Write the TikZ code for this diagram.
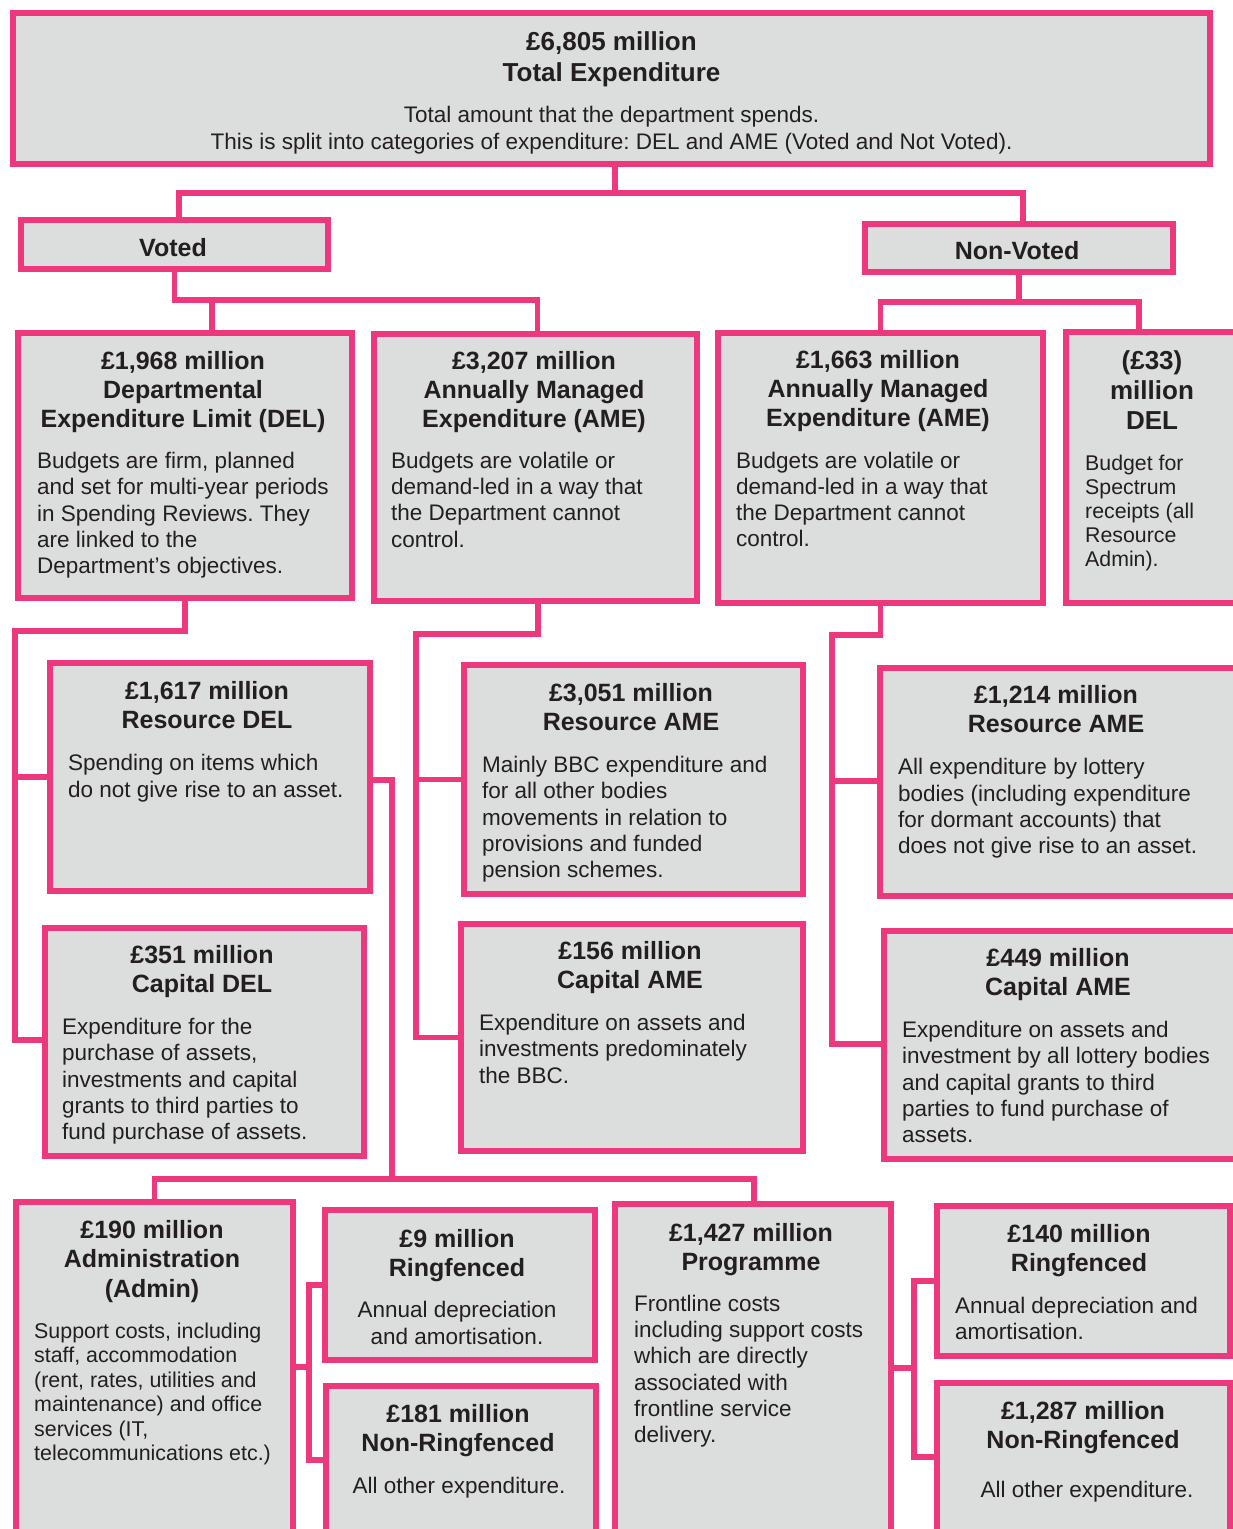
\documentclass[tikz,border=0pt]{standalone}
\usepackage{fontspec}
\setmainfont{Liberation Sans}
\definecolor{pk}{RGB}{238,56,126}
\definecolor{bx}{RGB}{220,221,221}
\definecolor{tx}{RGB}{35,31,32}
\pgfdeclarelayer{bg}
\pgfsetlayers{bg,main}
\tikzset{
  box/.style={draw=pk, fill=bx, line width=6pt, outer sep=0pt, inner sep=0pt},
  conn/.style={draw=pk, line width=5.5pt, line join=miter},
  ttl/.style={font=\bfseries\fontsize{25}{29}\selectfont, text=tx, align=center, anchor=base, inner sep=0pt},
  bdy/.style={font=\fontsize{22.5}{26.2}\selectfont, text=tx, align=left, anchor=base west, inner sep=0pt},
  sbdy/.style={font=\fontsize{21.4}{24.4}\selectfont, text=tx, align=left, anchor=base west, inner sep=0pt},
}
\begin{document}
\frenchspacing
\begin{tikzpicture}[x=1pt,y=-1pt]
\useasboundingbox (0,0) rectangle (1233,1529);
\clip (0,0) rectangle (1233,1529);
% boxes
\node[box, minimum width=1197, minimum height=151] (top) at (611.5,88.5) {};
\node[box, minimum width=307, minimum height=49] (voted) at (174.5,244.5) {};
\node[box, minimum width=308, minimum height=48] (nonvoted) at (1019,248) {};
\node[box, minimum width=334, minimum height=265] (del) at (185,465.5) {};
\node[box, minimum width=323, minimum height=267] (ame1) at (535.5,467.5) {};
\node[box, minimum width=325, minimum height=270] (ame2) at (880.5,468) {};
\node[box, minimum width=181, minimum height=271] (del33) at (1156.5,467.5) {};
\node[box, minimum width=320, minimum height=228] (resdel) at (210,777) {};
\node[box, minimum width=319, minimum height=228] (capdel) at (204.5,1042) {};
\node[box, minimum width=339, minimum height=229] (resame1) at (633.5,779.5) {};
\node[box, minimum width=342, minimum height=227] (capame1) at (632,1037.5) {};
\node[box, minimum width=367, minimum height=228] (resame2) at (1063.5,782) {};
\node[box, minimum width=363, minimum height=228] (capame2) at (1065.5,1045) {};
\node[box, minimum width=277, minimum height=355] (admin) at (154.5,1379.5) {};
\node[box, minimum width=270, minimum height=150] (ring9) at (460,1285) {};
\node[box, minimum width=270, minimum height=171] (nonring181) at (461,1471.5) {};
\node[box, minimum width=276, minimum height=353] (prog) at (753,1380.5) {};
\node[box, minimum width=293, minimum height=150] (ring140) at (1083.5,1281) {};
\node[box, minimum width=293, minimum height=174] (nonring1287) at (1083.5,1470) {};
% connectors
\begin{pgfonlayer}{bg}
\draw[conn] ([xshift=3.5]top.south) -- ++(0,29) -| ([xshift=4.5]voted.north);
\draw[conn] ([xshift=3.5]top.south) -- ++(0,29) -| ([xshift=4]nonvoted.north);
\draw[conn] (voted.south) -- ++(0,31) -| ([xshift=27]del.north);
\draw[conn] (voted.south) -- ++(0,31) -| ([xshift=2]ame1.north);
\draw[conn] (nonvoted.south) -- ++(0,30) -| (ame2.north);
\draw[conn] (nonvoted.south) -- ++(0,30) -| ([xshift=-17.5]del33.north);
\draw[conn] (del.south) -- ++(0,33) -- ++(-170,0) |- (resdel.west);
\draw[conn] (del.south) -- ++(0,33) -- ++(-170,0) |- ([yshift=2]capdel.west);
\draw[conn] ([yshift=-3]resdel.east) -- ++(22,0) -- ++(0,399) -| (admin.north);
\draw[conn] ([yshift=-3]resdel.east) -- ++(22,0) -- ++(0,399) -| ([xshift=1]prog.north);
\draw[conn] ([xshift=2.5]ame1.south) -- ++(0,33) -- ++(-122,0) |- (resame1.west);
\draw[conn] ([xshift=2.5]ame1.south) -- ++(0,33) -- ++(-122,0) |- (capame1.west);
\draw[conn] (ame2.south) -- ++(0,32) -- ++(-48.5,0) |- ([yshift=1]resame2.west);
\draw[conn] (ame2.south) -- ++(0,32) -- ++(-48.5,0) |- ([yshift=1]capame2.west);
\draw[conn] ([yshift=12.5]admin.east) -- ++(16,0) |- (ring9.west);
\draw[conn] ([yshift=12.5]admin.east) -- ++(16,0) |- ([yshift=11.5]nonring181.west);
\draw[conn] ([yshift=12.5]prog.east) -- ++(23,0) |- (ring140.west);
\draw[conn] ([yshift=12.5]prog.east) -- ++(23,0) |- ([yshift=13]nonring1287.west);
\end{pgfonlayer}
% texts (multi-line nodes: base anchor = last line's baseline)
\node[ttl, font=\bfseries\fontsize{26}{31}\selectfont] (top-t) at (611.5,81) {£6,805 million\\Total Expenditure};
\node[bdy, align=center, anchor=base, font=\fontsize{22.5}{27}\selectfont] (top-b) at (611.5,149) {Total amount that the department spends.\\This is split into categories of expenditure: DEL and AME (Voted and Not Voted).};
\node[ttl] (voted-t) at (173,256) {Voted};
\node[ttl] (nonvoted-t) at (1017,259) {Non-Voted};
\node[ttl] (del-t) at (183,427) {£1,968 million\\Departmental\\Expenditure Limit (DEL)};
\node[bdy] (del-b) at (37,573.5) {Budgets are firm, planned\\and set for multi-year periods\\in Spending Reviews. They\\are linked to the\\Department’s objectives.};
\node[ttl] (ame1-t) at (534,427) {£3,207 million\\Annually Managed\\Expenditure (AME)};
\node[bdy] (ame1-b) at (391,547) {Budgets are volatile or\\demand-led in a way that\\the Department cannot\\control.};
\node[ttl] (ame2-t) at (878,426) {£1,663 million\\Annually Managed\\Expenditure (AME)};
\node[bdy] (ame2-b) at (736,546.6) {Budgets are volatile or\\demand-led in a way that\\the Department cannot\\control.};
\node[ttl, font=\bfseries\fontsize{26}{30}\selectfont] (del33-t) at (1152,429) {(£33)\\million\\DEL};
\node[sbdy, font=\fontsize{21.3}{24}\selectfont] (del33-b) at (1085,566) {Budget for\\Spectrum\\receipts (all\\Resource\\Admin).};
\node[ttl] (resdel-t) at (207,728) {£1,617 million\\Resource DEL};
\node[bdy] (resdel-b) at (68,797) {Spending on items which\\do not give rise to an asset.};
\node[ttl] (capdel-t) at (202,992) {£351 million\\Capital DEL};
\node[bdy] (capdel-b) at (62,1139.5) {Expenditure for the\\purchase of assets,\\investments and capital\\grants to third parties to\\fund purchase of assets.};
\node[ttl] (resame1-t) at (631,730) {£3,051 million\\Resource AME};
\node[bdy] (resame1-b) at (482,877.5) {Mainly BBC expenditure and\\for all other bodies\\movements in relation to\\provisions and funded\\pension schemes.};
\node[ttl] (capame1-t) at (630,988) {£156 million\\Capital AME};
\node[bdy] (capame1-b) at (479,1083) {Expenditure on assets and\\investments predominately\\the BBC.};
\node[ttl] (resame2-t) at (1056,732) {£1,214 million\\Resource AME};
\node[bdy] (resame2-b) at (898,853.5) {All expenditure by lottery\\bodies (including expenditure\\for dormant accounts) that\\does not give rise to an asset.};
\node[ttl] (capame2-t) at (1058,995) {£449 million\\Capital AME};
\node[bdy] (capame2-b) at (902,1142.5) {Expenditure on assets and\\investment by all lottery bodies\\and capital grants to third\\parties to fund purchase of\\assets.};
\node[ttl, font=\bfseries\fontsize{25}{29.5}\selectfont] (admin-t) at (152,1297) {£190 million\\Administration\\(Admin)};
\node[sbdy] (admin-b) at (34,1460.5) {Support costs, including\\staff, accommodation\\(rent, rates, utilities and\\maintenance) and office\\services (IT,\\telecommunications etc.)};
\node[ttl] (ring9-t) at (457,1276) {£9 million\\Ringfenced};
\node[bdy, align=center, anchor=base, font=\fontsize{22.5}{27}\selectfont] (ring9-b) at (457,1344) {Annual depreciation\\and amortisation.};
\node[ttl] (nonring181-t) at (458,1451) {£181 million\\Non-Ringfenced};
\node[bdy, anchor=base] (nonring181-b) at (459,1493) {All other expenditure.};
\node[ttl] (prog-t) at (751,1270) {£1,427 million\\Programme};
\node[bdy] (prog-b) at (634,1442.5) {Frontline costs\\including support costs\\which are directly\\associated with\\frontline service\\delivery.};
\node[ttl] (ring140-t) at (1079,1271) {£140 million\\Ringfenced};
\node[bdy] (ring140-b) at (955,1339.5) {Annual depreciation and\\amortisation.};
\node[ttl] (nonring1287-t) at (1083,1448) {£1,287 million\\Non-Ringfenced};
\node[bdy, anchor=base] (nonring1287-b) at (1087,1497) {All other expenditure.};
\end{tikzpicture}
\end{document}
